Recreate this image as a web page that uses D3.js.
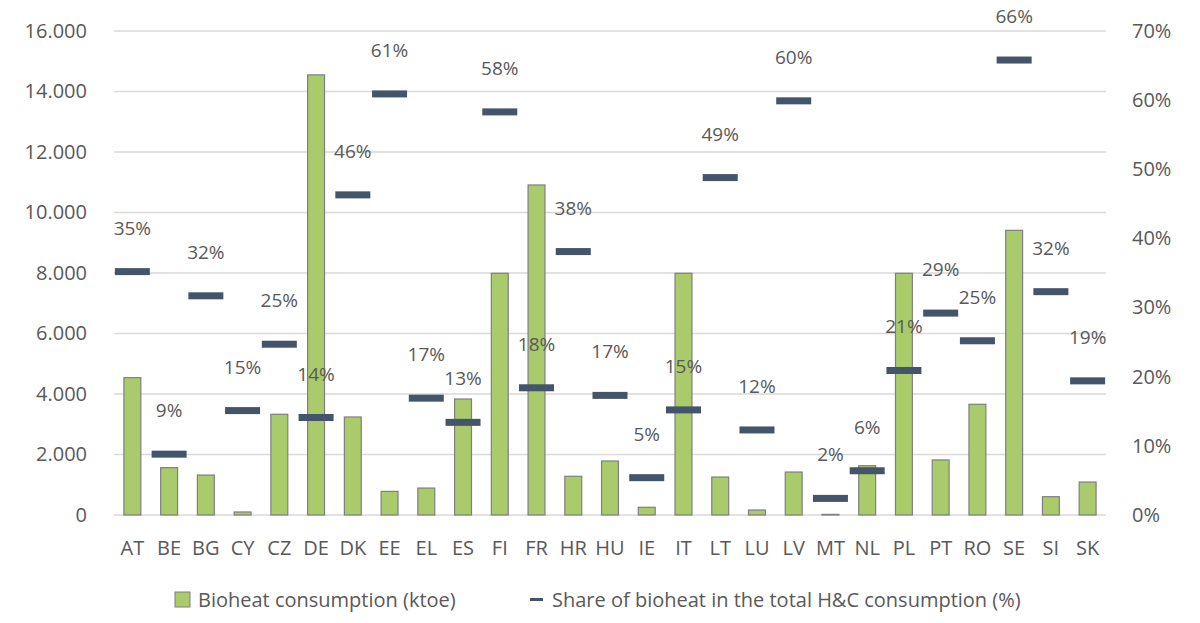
<!DOCTYPE html>
<html>
<head>
<meta charset="utf-8">
<script src="https://cdn.jsdelivr.net/npm/d3@7"></script>
<style>
  body { margin: 0; background: #fff; }
  text { font-family: "Open Sans", sans-serif; fill: #595959; }
</style>
</head>
<body>
<div id="chart"></div>
<script>
const countries = ["AT", "BE", "BG", "CY", "CZ", "DE", "DK", "EE", "EL", "ES", "FI", "FR", "HR", "HU", "IE", "IT", "LT", "LU", "LV", "MT", "NL", "PL", "PT", "RO", "SE", "SI", "SK"];
const bioheat = [4540, 1565, 1320, 100, 3330, 14550, 3240, 780, 890, 3835, 7990, 10910, 1280, 1785, 255, 7990, 1255, 165, 1420, 20, 1630, 7990, 1820, 3660, 9410, 605, 1090];
const share = [35.2, 8.8, 31.7, 15.1, 24.7, 14.1, 46.3, 60.9, 16.9, 13.4, 58.3, 18.4, 38.1, 17.3, 5.4, 15.2, 48.8, 12.3, 59.9, 2.4, 6.4, 20.9, 29.2, 25.2, 65.8, 32.3, 19.4];
const leftTicks = [0, 2000, 4000, 6000, 8000, 10000, 12000, 14000, 16000];
const rightTicks = [0, 10, 20, 30, 40, 50, 60, 70];

const width = 1200;
const height = 623;
const margin = { top: 31, right: 94, bottom: 108, left: 114 };
const GREEN = "#a9cb6b";
const DASH = "#44546a";

const svg = d3.select("#chart").append("svg")
  .attr("width", width)
  .attr("height", height);

const x = d3.scaleBand()
  .domain(countries)
  .range([margin.left, width - margin.right])
  .paddingInner(0.54)
  .paddingOuter(0.27);

const xc = d3.scaleBand()
  .domain(countries)
  .range([margin.left, width - margin.right]);

const y = d3.scaleLinear()
  .domain([0, 16000])
  .range([height - margin.bottom, margin.top]);

const y2 = d3.scaleLinear()
  .domain([0, 70])
  .range([height - margin.bottom, margin.top]);

const fmt = (d) => d3.format(",")(d).replace(/,/g, ".");

// gridlines
svg.append("g")
  .selectAll("line")
  .data(leftTicks)
  .join("line")
  .attr("x1", margin.left)
  .attr("x2", width - margin.right)
  .attr("y1", (d) => y(d))
  .attr("y2", (d) => y(d))
  .attr("stroke", "#d9d9d9")
  .attr("stroke-width", 1.3);

// left axis
svg.append("g")
  .attr("transform", `translate(${margin.left - 27},0)`)
  .call(d3.axisLeft(y).tickValues(leftTicks).tickFormat(fmt).tickSize(0).tickPadding(0))
  .call((g) => g.select(".domain").remove())
  .selectAll("text")
  .attr("font-size", 20)
  .attr("font-family", "Open Sans");

// right axis
svg.append("g")
  .attr("transform", `translate(${width - margin.right + 26},0)`)
  .call(d3.axisRight(y2).tickValues(rightTicks).tickFormat((d) => d + "%").tickSize(0).tickPadding(0))
  .call((g) => g.select(".domain").remove())
  .selectAll("text")
  .attr("font-size", 20)
  .attr("font-family", "Open Sans");

// bottom axis
svg.append("g")
  .attr("transform", `translate(0,${height - margin.bottom + 26})`)
  .call(d3.axisBottom(xc).tickSize(0).tickPadding(0))
  .call((g) => g.select(".domain").remove())
  .selectAll("text")
  .attr("font-size", 20)
  .attr("font-family", "Open Sans");

// bars
svg.append("g")
  .selectAll("rect")
  .data(bioheat)
  .join("rect")
  .attr("x", (_, i) => x(countries[i]))
  .attr("y", (d) => y(d))
  .attr("width", x.bandwidth())
  .attr("height", (d) => y(0) - y(d))
  .attr("fill", GREEN)
  .attr("stroke", "#7f7f7f")
  .attr("stroke-width", 1.2);

// share markers
const dashW = 35;
svg.append("g")
  .selectAll("rect")
  .data(share)
  .join("rect")
  .attr("x", (_, i) => xc(countries[i]) + xc.bandwidth() / 2 - dashW / 2)
  .attr("y", (d) => y2(d) - 3.5)
  .attr("width", dashW)
  .attr("height", 7)
  .attr("fill", DASH);

// share labels
svg.append("g")
  .selectAll("text")
  .data(share)
  .join("text")
  .attr("x", (_, i) => xc(countries[i]) + xc.bandwidth() / 2)
  .attr("y", (d) => y2(d) - 37)
  .attr("text-anchor", "middle")
  .attr("font-size", 19)
  .text((d) => Math.round(d) + "%");

// legend
const legend = svg.append("g");
legend.append("rect")
  .attr("x", 175).attr("y", 592)
  .attr("width", 15).attr("height", 15)
  .attr("fill", GREEN)
  .attr("stroke", "#7f7f7f")
  .attr("stroke-width", 1);
legend.append("text")
  .attr("x", 198).attr("y", 607)
  .attr("font-size", 20)
  .text("Bioheat consumption (ktoe)");
legend.append("rect")
  .attr("x", 530).attr("y", 598)
  .attr("width", 13).attr("height", 3)
  .attr("fill", DASH);
legend.append("text")
  .attr("x", 552).attr("y", 607)
  .attr("font-size", 20)
  .text("Share of bioheat in the total H&C consumption (%)");
</script>
</body>
</html>
